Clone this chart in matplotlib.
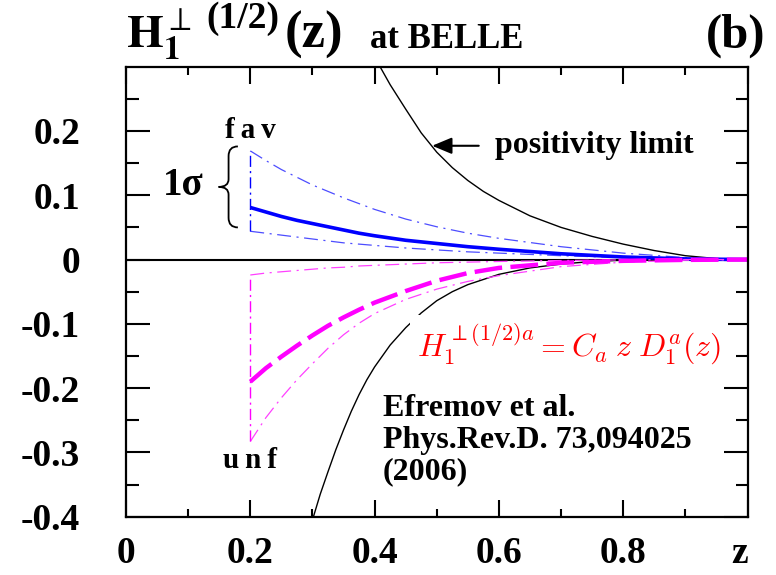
import matplotlib.pyplot as plt
import numpy as np
from matplotlib.path import Path
from matplotlib.patches import PathPatch

# z grid of the model curves (curves start at z = 0.2)
z = [0.2, 0.225, 0.25, 0.275, 0.3, 0.325, 0.35, 0.375, 0.4, 0.45, 0.5, 0.55, 0.6, 0.7, 0.8, 0.9, 1.0]

# favoured: central value and 1 sigma band
fav_mid = [0.081, 0.074, 0.067, 0.061, 0.056, 0.051, 0.046, 0.041, 0.037, 0.030, 0.025, 0.020, 0.016, 0.009, 0.004, 0.001, 0.0]
fav_up = [0.169, 0.154, 0.140, 0.128, 0.116, 0.106, 0.096, 0.087, 0.078, 0.063, 0.051, 0.041, 0.033, 0.020, 0.010, 0.003, 0.0]
fav_lo = [0.044, 0.041, 0.038, 0.035, 0.032, 0.029, 0.026, 0.024, 0.022, 0.018, 0.015, 0.012, 0.010, 0.006, 0.003, 0.001, 0.0]

# unfavoured: central value and 1 sigma band
unf_mid = [-0.190, -0.169, -0.151, -0.134, -0.118, -0.103, -0.090, -0.078, -0.067, -0.049, -0.033, -0.021, -0.013, -0.005, -0.002, -0.0005, 0.0]
unf_up = [-0.024, -0.021, -0.019, -0.017, -0.015, -0.013, -0.012, -0.010, -0.009, -0.007, -0.005, -0.004, -0.003, -0.0015, -0.0005, 0.0, 0.0]
unf_lo = [-0.283, -0.246, -0.215, -0.187, -0.162, -0.138, -0.117, -0.099, -0.084, -0.062, -0.046, -0.034, -0.025, -0.011, -0.004, -0.001, 0.0]

# positivity limits
pos_z = [0.40, 0.425, 0.45, 0.475, 0.5, 0.525, 0.55, 0.575, 0.6, 0.65, 0.7, 0.75, 0.8, 0.85, 0.9, 0.95, 1.0]
pos_up = [0.315, 0.272, 0.234, 0.197, 0.167, 0.143, 0.123, 0.106, 0.092, 0.068, 0.050, 0.036, 0.024, 0.014, 0.006, 0.0015, 0.0]
neg_z = [0.30, 0.3125, 0.325, 0.3375, 0.35, 0.3625, 0.375, 0.3875, 0.4, 0.425, 0.45, 0.475, 0.5, 0.525,
         0.55, 0.6, 0.65, 0.7, 0.75, 0.8, 0.9, 1.0]
neg_lo = [-0.405, -0.365, -0.330, -0.296, -0.265, -0.236, -0.210, -0.187, -0.167, -0.133, -0.106, -0.083,
          -0.064, -0.050, -0.039, -0.023, -0.013, -0.007, -0.003, -0.001, 0.0, 0.0]

xticks = [0, 0.2, 0.4, 0.6, 0.8, 1.0]
xticklabels = ['0', '0.2', '0.4', '0.6', '0.8', '']
yticks = [-0.4, -0.3, -0.2, -0.1, 0, 0.1, 0.2]
yticklabels = ['-0.4', '-0.3', '-0.2', '-0.1', '0', '0.1', '0.2']

plt.rcParams['font.family'] = ['Liberation Serif', 'DejaVu Serif']
plt.rcParams['lines.scale_dashes'] = False

fig = plt.figure(figsize=(7.76, 5.75), dpi=100)
ax = fig.add_axes([0.1624, 0.1014, 0.8009, 0.7826])
ax.set_xlim(0, 1)
ax.set_ylim(-0.4, 0.3)

ax.axhline(0, color='black', lw=1.5, zorder=1)

# black positivity curves
ax.plot(pos_z, pos_up, color='black', lw=1.0)
ax.plot(neg_z, neg_lo, color='black', lw=1.0)

# favoured (blue)
dashdot = (0, (10, 4, 1.5, 4))
ax.plot(z, fav_up, color='#4d4dff', lw=0.9, linestyle=dashdot)
ax.plot(z, fav_lo, color='#4d4dff', lw=0.9, linestyle=dashdot)
ax.plot([z[0], z[0]], [fav_lo[0], fav_up[0]], color='blue', lw=1.0, linestyle=(0, (8, 3, 1.5, 3)))
ax.plot(z, fav_mid, color='blue', lw=2.6, solid_capstyle='butt')

# unfavoured (magenta)
ax.plot(z, unf_up, color='#ff40ff', lw=0.9, linestyle=dashdot)
ax.plot(z, unf_lo, color='#ff40ff', lw=0.9, linestyle=dashdot)
ax.plot([z[0], z[0]], [unf_lo[0], unf_up[0]], color='magenta', lw=1.0, linestyle=(0, (8, 3, 1.5, 3)))
ax.plot(z, unf_mid, color='magenta', lw=3.2, linestyle=(0, (20, 6)), dash_capstyle='butt')

# ticks and frame
for s in ax.spines.values():
    s.set_linewidth(1.6)
ax.set_xticks(xticks)
ax.set_xticklabels(xticklabels)
ax.set_yticks(yticks)
ax.set_yticklabels(yticklabels)
ax.set_xticks(np.arange(0.1, 1.0, 0.2), minor=True)
ax.set_yticks(np.arange(-0.35, 0.3, 0.1), minor=True)
ax.tick_params(axis='x', which='major', direction='in', top=True, length=12, width=1.5, pad=14, labelsize=27)
ax.tick_params(axis='x', which='minor', direction='in', top=True, length=6, width=1.5)
ax.tick_params(axis='y', which='major', direction='in', right=True, length=17, width=1.5, pad=33, labelsize=27)
ax.tick_params(axis='y', which='minor', direction='in', right=True, length=9, width=1.5)
for lab in ax.get_xticklabels() + ax.get_yticklabels():
    lab.set_fontweight('bold')

# axis name "z" sits in place of the last x tick label
ax.text(0.987, -0.043, 'z', transform=ax.transAxes, ha='center', va='top',
        fontsize=27, fontweight='bold')

# labels inside the plot
ax.text(0.2, 0.200, 'f\u2009a\u2009v', ha='center', va='center', fontsize=21, fontweight='bold')
ax.text(0.2, -0.312, 'u\u2009n\u2009f', ha='center', va='center', fontsize=21, fontweight='bold')
ax.text(0.092, 0.115, '1σ', ha='center', va='center', fontsize=28, fontweight='bold')

# curly brace for 1 sigma
xr, xm, xl = 0.180, 0.165, 0.149
yt, yb = 0.176, 0.050
ym = (yt + yb) / 2
verts = [(xr, yt), (xm, yt), (xm, yt - 0.015), (xm, ym + 0.012),
         (xm, ym), (xl, ym), (xm, ym), (xm, ym - 0.012),
         (xm, yb + 0.015), (xm, yb), (xr, yb)]
codes = [Path.MOVETO, Path.CURVE3, Path.CURVE3, Path.LINETO,
         Path.CURVE3, Path.CURVE3, Path.CURVE3, Path.CURVE3,
         Path.LINETO, Path.CURVE3, Path.CURVE3]
ax.add_patch(PathPatch(Path(verts, codes), fill=False, lw=1.3, color='black'))

ax.annotate('', xy=(0.488, 0.177), xytext=(0.572, 0.177),
            arrowprops=dict(arrowstyle='-|>,head_length=0.6,head_width=0.25',
                            color='black', lw=1.5, mutation_scale=20))
ax.text(0.594, 0.177, 'positivity limit', ha='left', va='center', fontsize=23, fontweight='bold')

ax.text(0.468, -0.132, r'$H_1^{\perp(1/2)a} = C_a\;z\;D_1^a(z)$', color='red',
        fontsize=23, ha='left', va='center', math_fontfamily='cm',
        bbox=dict(facecolor='white', edgecolor='none', pad=5))
ax.text(0.413, -0.281, 'Efremov et al.\nPhys.Rev.D. 73,094025\n(2006)', ha='left', va='center',
        fontsize=23, fontweight='bold', linespacing=1.1,
        bbox=dict(facecolor='white', edgecolor='none', pad=2))

# title line above the frame
fig.text(0.163, 0.917, r'$\mathbf{H}_{\mathbf{1}}^{\perp}$',
         fontsize=34, ha='left', va='baseline', math_fontfamily='stix')
fig.text(0.266, 0.952, '(1/2)', fontsize=27, ha='left', va='baseline', fontweight='bold')
fig.text(0.367, 0.917, '(z)', fontsize=38, ha='left', va='baseline', fontweight='bold')
fig.text(0.477, 0.917, 'at BELLE', fontsize=25, ha='left', va='baseline', fontweight='bold')
fig.text(0.986, 0.917, '(b)', fontsize=35, ha='right', va='baseline', fontweight='bold')

fig.savefig('out.png', dpi=100)
